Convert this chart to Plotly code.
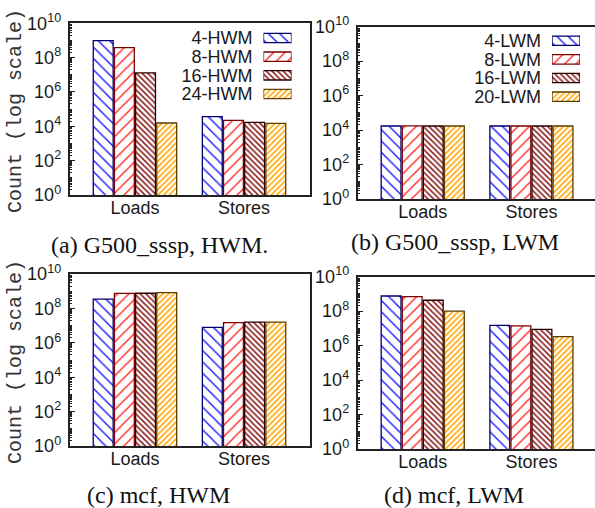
import plotly.graph_objects as go

# ---------------- data ----------------
categories = ["Loads", "Stores"]
hwm_names = ["4-HWM", "8-HWM", "16-HWM", "24-HWM"]
lwm_names = ["4-LWM", "8-LWM", "16-LWM", "20-LWM"]

g500_hwm_loads = [9.8e8, 3.8e8, 1.28e7, 1.56e4]
g500_hwm_stores = [3.66e4, 2.2e4, 1.71e4, 1.5e4]
g500_lwm_loads = [1.72e4, 1.74e4, 1.72e4, 1.72e4]
g500_lwm_stores = [1.72e4, 1.72e4, 1.72e4, 1.72e4]
mcf_hwm_loads = [3.5e8, 7.5e8, 7.6e8, 8.2e8]
mcf_hwm_stores = [7.9e6, 1.5e7, 1.6e7, 1.6e7]
mcf_lwm_loads = [7.6e8, 6.9e8, 4.3e8, 1.0e8]
mcf_lwm_stores = [1.5e7, 1.4e7, 8.8e6, 3.3e6]

tick_vals = [1, 1e2, 1e4, 1e6, 1e8, 1e10]
tick_text = ["10<sup>0</sup>", "10<sup>2</sup>", "10<sup>4</sup>",
             "10<sup>6</sup>", "10<sup>8</sup>", "10<sup>10</sup>"]

captions = ["(a) G500_sssp, HWM.", "(b) G500_sssp, LWM",
            "(c) mcf, HWM", "(d) mcf, LWM"]
y_title = "Count (log scale)"

# ---------------- styles ----------------
fg_colors = ["#1f1fff", "#ff2a2a", "#8b1c1c", "#ffa500"]
line_colors = ["#00006e", "#7a0000", "#2a0000", "#5c3c00"]
shapes = ["\\", "/", "\\", "/"]
sizes = [8, 8, 4, 4]
solid = [0.18, 0.18, 0.38, 0.38]

W, H = 595, 508
SANS = "Liberation Sans, Arial, sans-serif"
INK = "#1a1a1a"


def px_x(a, b):
    return [a / W, min(b / W, 1.0)]


def px_y(top, bottom):
    return [1 - bottom / H, 1 - top / H]


def marker(i):
    return dict(
        color="white",
        line=dict(color=line_colors[i], width=1.3),
        pattern=dict(shape=shapes[i], fgcolor=fg_colors[i], bgcolor="white",
                     size=sizes[i], solidity=solid[i], fillmode="replace"),
    )


fig = go.Figure()

panels = [
    ("x", "y", hwm_names, g500_hwm_loads, g500_hwm_stores),
    ("x2", "y2", lwm_names, g500_lwm_loads, g500_lwm_stores),
    ("x3", "y3", hwm_names, mcf_hwm_loads, mcf_hwm_stores),
    ("x4", "y4", lwm_names, mcf_lwm_loads, mcf_lwm_stores),
]

for xa, ya, names, loads, stores in panels:
    for i, nm in enumerate(names):
        fig.add_trace(go.Bar(
            x=categories, y=[loads[i], stores[i]], name=nm,
            xaxis=xa, yaxis=ya, marker=marker(i), showlegend=False,
        ))

# key samples (gnuplot-style: label left, sample right)
for xa, ya, names in [("x5", "y5", hwm_names), ("x6", "y6", lwm_names)]:
    for i, nm in enumerate(names):
        fig.add_trace(go.Bar(
            y=[nm], x=[1], orientation="h", xaxis=xa, yaxis=ya,
            width=0.5, offset=-0.25, marker=marker(i), showlegend=False,
            hoverinfo="skip",
        ))

dom = {
    "a": (px_x(69.5, 309.5), px_y(23.3, 195)),
    "b": (px_x(357.5, 600), px_y(26.7, 199)),
    "c": (px_x(69.5, 309.5), px_y(274, 446)),
    "d": (px_x(357.5, 600), px_y(276.7, 449)),
}

axis_line = dict(showline=True, linecolor="#222", linewidth=1.5)

layout_axes = {}
for k, (key, ax_x, ax_y, right_frame) in enumerate([
        ("a", "xaxis", "yaxis", True),
        ("b", "xaxis2", "yaxis2", False),
        ("c", "xaxis3", "yaxis3", True),
        ("d", "xaxis4", "yaxis4", False)]):
    xd, yd = dom[key]
    anchor_y = "y" if k == 0 else "y%d" % (k + 1)
    anchor_x = "x" if k == 0 else "x%d" % (k + 1)
    xr = [-0.6, 1.6] if right_frame else [-0.6, 1.585]
    layout_axes[ax_x] = dict(
        domain=xd, anchor=anchor_y, type="category",
        categoryarray=categories, range=xr, ticks="",
        mirror=True, showgrid=False, zeroline=False, automargin=False,
        ticklabelstandoff=-4,
        tickfont=dict(family=SANS, size=18, color=INK),
        **axis_line,
    )
    layout_axes[ax_y] = dict(
        domain=yd, anchor=anchor_x, type="log", range=[0, 10],
        tickmode="array", tickvals=tick_vals, ticktext=tick_text,
        ticks="inside", ticklen=6, tickcolor="#222",
        minor=dict(ticks="inside", ticklen=3, dtick="D1", tickcolor="#222",
                   showgrid=False),
        mirror=right_frame, showgrid=False, zeroline=False, automargin=False,
        ticklabelstandoff=3,
        tickfont=dict(family=SANS, size=18, color=INK),
        **axis_line,
    )

# key axes
key_y = dict(type="category", autorange="reversed", ticks="",
             showline=False, showgrid=False, zeroline=False, automargin=False,
             ticklabelstandoff=10, tickmode="array",
             tickfont=dict(family=SANS, size=18, color=INK))
layout_axes["xaxis5"] = dict(domain=px_x(263.5, 291.5), anchor="y5",
                             range=[0, 1], visible=False)
layout_axes["yaxis5"] = dict(domain=px_y(28.7, 103.3), anchor="x5",
                             categoryarray=hwm_names, tickvals=hwm_names,
                             ticktext=hwm_names, **key_y)
layout_axes["xaxis6"] = dict(domain=px_x(552, 580), anchor="y6",
                             range=[0, 1], visible=False)
layout_axes["yaxis6"] = dict(domain=px_y(31.4, 106), anchor="x6",
                             categoryarray=lwm_names, tickvals=lwm_names,
                             ticktext=lwm_names, **key_y)

annotations = []
for txt, cx, cy in [(captions[0], 159, 245), (captions[1], 455, 242),
                    (captions[2], 158.5, 495), (captions[3], 453.5, 495)]:
    annotations.append(dict(
        text=txt, x=cx / W, y=1 - cy / H, xref="paper", yref="paper",
        xanchor="center", yanchor="middle", showarrow=False,
        font=dict(family="Liberation Serif, Times New Roman, serif",
                  size=24, color="#111"),
    ))
for cy in [111, 362]:
    annotations.append(dict(
        text=y_title, x=15 / W, y=1 - cy / H, xref="paper", yref="paper",
        xanchor="center", yanchor="middle", showarrow=False, textangle=-90,
        font=dict(family="Liberation Mono, Courier New, monospace",
                  size=20, color="#333"),
    ))

fig.update_layout(
    template="none",
    width=W, height=H, autosize=False,
    margin=dict(l=0, r=0, t=0, b=0),
    paper_bgcolor="white", plot_bgcolor="white",
    barmode="group", bargap=0.224, bargroupgap=0.06,
    annotations=annotations,
    **layout_axes,
)

fig.write_html(
    "out.html",
    config={"displayModeBar": False},
    post_script="document.body.style.margin='0px';"
                "document.body.style.overflow='hidden';",
)
